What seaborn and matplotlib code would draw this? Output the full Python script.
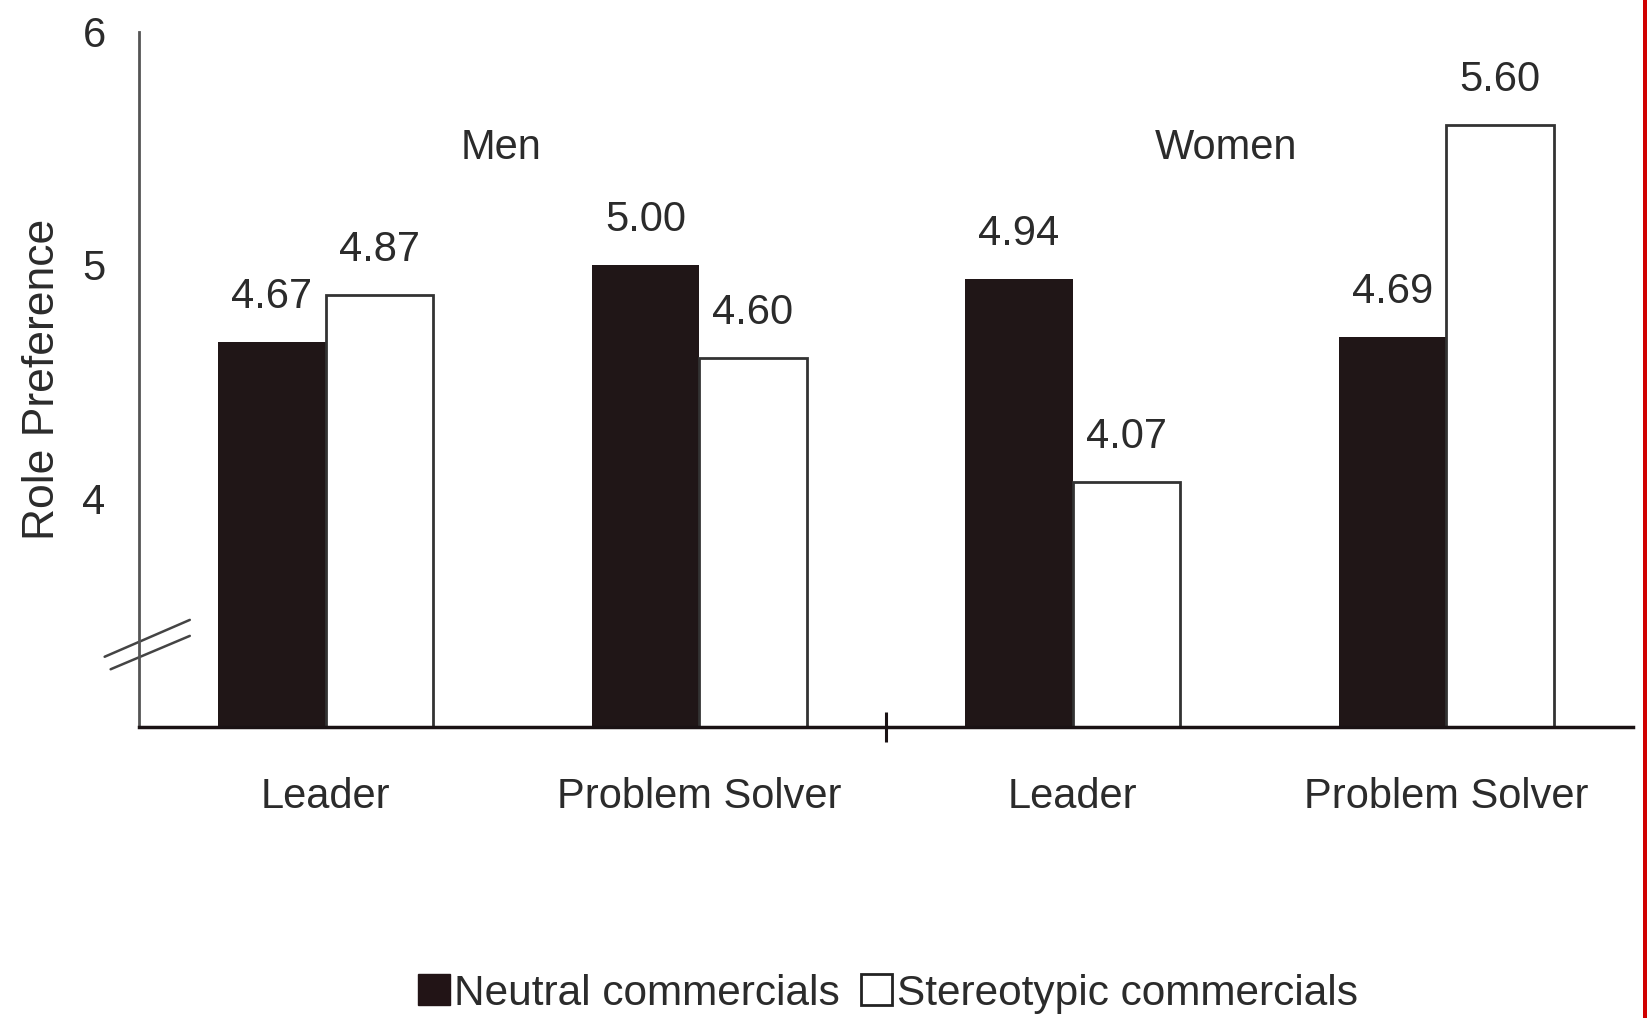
import matplotlib
matplotlib.use("Agg")
import matplotlib.pyplot as plt
from matplotlib.patches import Rectangle, Patch
from matplotlib.lines import Line2D
import seaborn as sns
import pandas as pd

# Role preference by gender and commercial type
groups = ["Men", "Men", "Women", "Women"]
roles = ["Leader", "Problem Solver", "Leader", "Problem Solver"]
neutral = [4.67, 5.00, 4.94, 4.69]
stereotypic = [4.87, 4.60, 4.07, 5.60]
conditions = ["Neutral commercials", "Stereotypic commercials"]

slots = [f"{g} {r}" for g, r in zip(groups, roles)]
df = pd.DataFrame({
    "slot": slots * 2,
    "value": neutral + stereotypic,
    "condition": [conditions[0]] * 4 + [conditions[1]] * 4,
})

sns.set_style("white")
plt.rcParams["font.family"] = ["Liberation Sans", "DejaVu Sans"]
text_color = "#2b2b2b"
dark = "#221416"

fig = plt.figure(figsize=(16.47, 10.18), dpi=100)
ax = fig.add_axes([139 / 1647, 1 - 727 / 1018, (1633 - 139) / 1647, (727 - 31.5) / 1018])

sns.barplot(data=df, x="slot", y="value", hue="condition", order=slots,
            hue_order=conditions, palette=[dark, "white"], width=0.575,
            linewidth=0, ax=ax, legend=False)

# outline only the white bars
for bar in ax.containers[1]:
    bar.set_edgecolor("#333333")
    bar.set_linewidth(2)

for cont in ax.containers:
    ax.bar_label(cont, fmt="%.2f", padding=18, fontsize=30, color=text_color)

ax.set_xlim(-0.5, 3.5)
ax.set_ylim(3.02, 6)
ax.set_yticks([4, 5, 6])
ax.set_yticklabels(["4", "5", "6"])
ax.set_xticks(range(4))
ax.set_xticklabels(roles)
ax.tick_params(axis="y", length=0, pad=24, labelsize=30, labelcolor=text_color)
ax.tick_params(axis="x", length=0, pad=36, labelsize=30, labelcolor=text_color)
# divider tick between the two gender groups
ax.set_xticks([1.5], minor=True)
ax.tick_params(axis="x", which="minor", bottom=True, direction="inout", length=21,
               width=2.2, color="#1a1214")
ax.set_xlabel("")
ax.set_ylabel("Role Preference", fontsize=32, color=text_color, labelpad=14)

for s in ["top", "right"]:
    ax.spines[s].set_visible(False)
ax.spines["left"].set_color("#555555")
ax.spines["left"].set_linewidth(2)
ax.spines["bottom"].set_color("#1a1214")
ax.spines["bottom"].set_linewidth(2.5)

# group labels
ax.text(0.47, 5.5, "Men", ha="center", va="center", fontsize=30, color=text_color)
ax.text(2.41, 5.5, "Women", ha="center", va="center", fontsize=30, color=text_color)

# axis break marks
for (x0, y0, x1, y1) in [(-0.023, 0.101, 0.034, 0.154), (-0.019, 0.083, 0.034, 0.131)]:
    ax.add_line(Line2D([x0, x1], [y0, y1], transform=ax.transAxes, color="#444444",
                       lw=1.8, clip_on=False))

handles = [Patch(facecolor=dark, edgecolor=dark),
           Patch(facecolor="white", edgecolor="#222222", linewidth=2)]
fig.legend(handles, conditions, loc="center", bbox_to_anchor=(0.539, 0.024), ncol=2,
           frameon=False, fontsize=30.5, handlelength=0.75, handleheight=0.75,
           handletextpad=0.1, columnspacing=0.5, labelcolor=text_color)

# red border strip at the right edge
fig.add_artist(Rectangle((1642.5 / 1647, 0), 4.5 / 1647, 1, transform=fig.transFigure,
                         facecolor="#d00000", edgecolor="none"))

fig.savefig("out.png", dpi=100)
